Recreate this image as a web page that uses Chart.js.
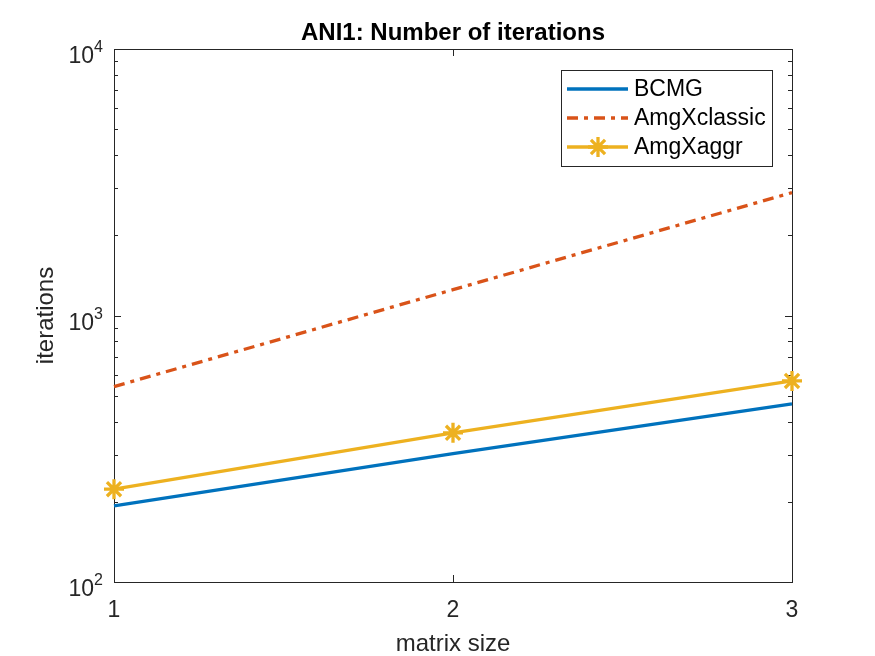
<!DOCTYPE html>
<html lang="en">
<head>
    <meta charset="UTF-8">
    <title>ANI1: Number of iterations</title>
    <style>
        html, body { margin: 0; padding: 0; background: #fff; }
        #wrap { width: 875px; height: 656px; position: relative; }
    </style>
</head>
<body>
    <div id="wrap"><canvas id="myChart"></canvas></div>

    <script src="https://cdn.jsdelivr.net/npm/chart.js@4.4.1/dist/chart.umd.min.js"></script>
    <script>
        // data
        var matrixSize = [1, 2, 3];
        var bcmg = [193, 303, 466];
        var amgxClassic = [541, 1250, 2892];
        var amgxAggr = [223, 363, 568];

        var xTicks = [1, 2, 3];
        var yExponents = [2, 3, 4];
        var seriesNames = ['BCMG', 'AmgXclassic', 'AmgXaggr'];

        var axisColor = '#262626';
        var fontName = '"Liberation Sans", Arial, Helvetica, sans-serif';
        var dashDot = [11, 6, 4, 6];

        function toPoints(ys) {
            return ys.map(function(y, i) { return { x: matrixSize[i], y: y }; });
        }

        // MATLAB-style box, inward ticks and labels
        var axesPlugin = {
            id: 'matlabAxes',
            beforeDatasetsDraw: function(chart) {
                var ctx = chart.ctx;
                var a = chart.chartArea;
                var xs = chart.scales.x;
                var ys = chart.scales.y;
                ctx.save();
                ctx.strokeStyle = axisColor;
                ctx.lineWidth = 1;
                ctx.strokeRect(Math.round(a.left) + 0.5, Math.round(a.top) + 0.5,
                    Math.round(a.right - a.left), Math.round(a.bottom - a.top));

                ctx.beginPath();
                xTicks.forEach(function(v) {
                    var px = Math.round(xs.getPixelForValue(v)) + 0.5;
                    ctx.moveTo(px, a.bottom); ctx.lineTo(px, a.bottom - 7);
                    ctx.moveTo(px, a.top); ctx.lineTo(px, a.top + 7);
                });
                for (var e = yExponents[0]; e < yExponents[yExponents.length - 1]; e++) {
                    for (var m = 1; m < 10; m++) {
                        var len = m === 1 ? 7 : 4;
                        var py = Math.round(ys.getPixelForValue(m * Math.pow(10, e))) + 0.5;
                        ctx.moveTo(a.left, py); ctx.lineTo(a.left + len, py);
                        ctx.moveTo(a.right, py); ctx.lineTo(a.right - len, py);
                    }
                }
                ctx.stroke();

                ctx.fillStyle = axisColor;
                ctx.font = '23px ' + fontName;
                ctx.textAlign = 'center';
                ctx.textBaseline = 'alphabetic';
                xTicks.forEach(function(v) {
                    ctx.fillText(String(v), xs.getPixelForValue(v), a.bottom + 35);
                });

                yExponents.forEach(function(e) {
                    var py = ys.getPixelForValue(Math.pow(10, e));
                    ctx.textAlign = 'right';
                    ctx.font = '16px ' + fontName;
                    var supW = ctx.measureText(String(e)).width;
                    ctx.fillText(String(e), a.left - 11, py + 3);
                    ctx.font = '23px ' + fontName;
                    ctx.fillText('10', a.left - 11 - supW, py + 14);
                });

                ctx.textAlign = 'center';
                ctx.font = '24px ' + fontName;
                ctx.fillText('matrix size', (a.left + a.right) / 2, 651);
                ctx.save();
                ctx.translate(53, (a.top + a.bottom) / 2);
                ctx.rotate(-Math.PI / 2);
                ctx.fillText('iterations', 0, 0);
                ctx.restore();

                ctx.font = 'bold 24px ' + fontName;
                ctx.fillStyle = '#000';
                ctx.fillText('ANI1: Number of iterations', (a.left + a.right) / 2, 40);
                ctx.restore();
            },
            afterDatasetsDraw: function(chart) {
                var ctx = chart.ctx;
                var box = { left: 561, top: 70, right: 772, bottom: 166 };
                ctx.save();
                ctx.fillStyle = '#fff';
                ctx.fillRect(box.left, box.top, box.right - box.left, box.bottom - box.top);
                ctx.strokeStyle = axisColor;
                ctx.lineWidth = 1;
                ctx.strokeRect(box.left + 0.5, box.top + 0.5, box.right - box.left, box.bottom - box.top);

                chart.data.datasets.forEach(function(ds, i) {
                    var cy = 89 + i * 29;
                    ctx.strokeStyle = ds.borderColor;
                    ctx.lineWidth = ds.borderWidth;
                    ctx.setLineDash(ds.borderDash || []);
                    ctx.beginPath();
                    ctx.moveTo(567, cy);
                    ctx.lineTo(628, cy);
                    ctx.stroke();
                    ctx.setLineDash([]);
                    if (ds.pointStyle === 'star') {
                        Chart.helpers.drawPoint(ctx, {
                            pointStyle: 'star', radius: ds.pointRadius,
                            borderWidth: ds.pointBorderWidth, rotation: 0
                        }, 598, cy);
                    }
                    ctx.fillStyle = '#000';
                    ctx.font = '23px ' + fontName;
                    ctx.textAlign = 'left';
                    ctx.textBaseline = 'middle';
                    ctx.fillText(ds.label, 634, cy + 1);
                });
                ctx.restore();
            }
        };

        var ctx = document.getElementById('myChart').getContext('2d');
        var myChart = new Chart(ctx, {
            type: 'line',
            data: {
                datasets: [{
                    label: seriesNames[0],
                    data: toPoints(bcmg),
                    borderColor: '#0072BD',
                    borderWidth: 3.3,
                    pointRadius: 0,
                    clip: false
                }, {
                    label: seriesNames[1],
                    data: toPoints(amgxClassic),
                    borderColor: '#D95319',
                    borderWidth: 3.3,
                    borderDash: dashDot,
                    pointRadius: 0,
                    clip: false
                }, {
                    label: seriesNames[2],
                    data: toPoints(amgxAggr),
                    borderColor: '#EDB120',
                    backgroundColor: '#EDB120',
                    borderWidth: 3.3,
                    pointStyle: 'star',
                    pointRadius: 10,
                    pointBorderColor: '#EDB120',
                    pointBorderWidth: 3.3,
                    clip: false
                }]
            },
            options: {
                responsive: true,
                maintainAspectRatio: false,
                animation: false,
                devicePixelRatio: 1,
                layout: { padding: { left: 114, right: 83, top: 49, bottom: 74 } },
                scales: {
                    x: { type: 'linear', min: 1, max: 3, display: false },
                    y: { type: 'logarithmic', min: 100, max: 10000, display: false }
                },
                plugins: {
                    legend: { display: false },
                    tooltip: { enabled: false }
                }
            },
            plugins: [axesPlugin]
        });
    </script>
</body>
</html>
